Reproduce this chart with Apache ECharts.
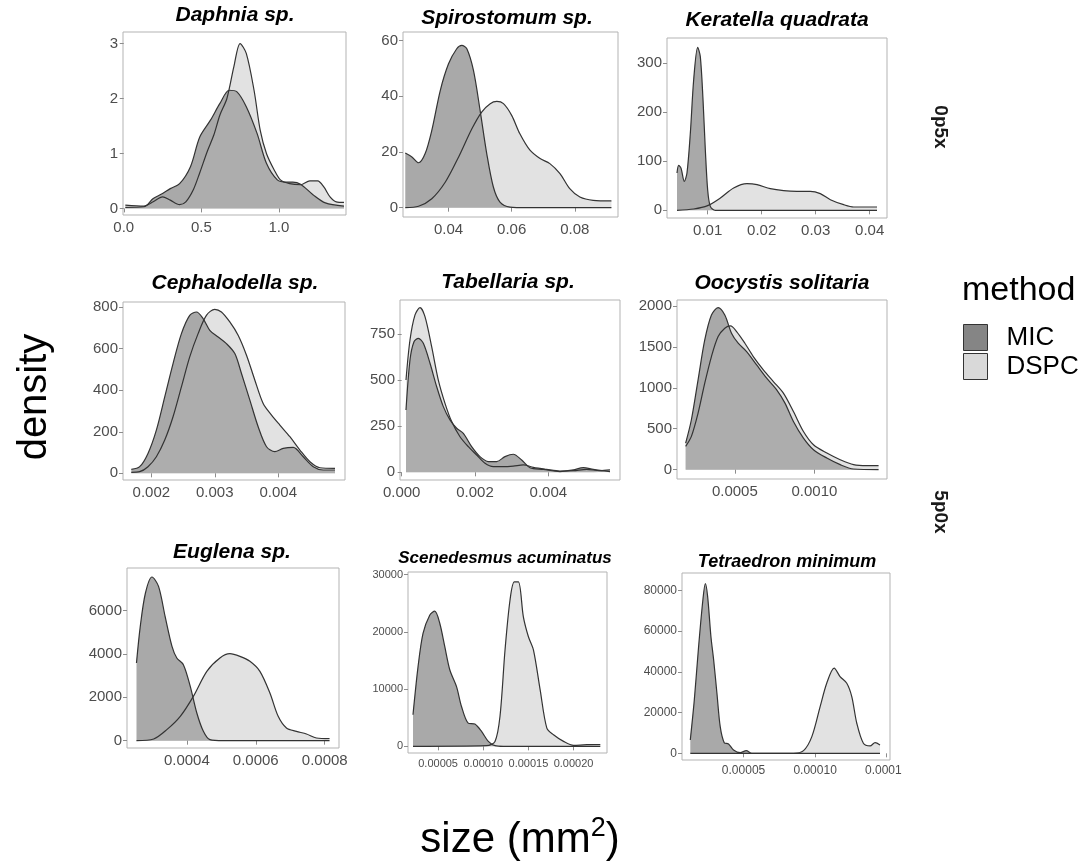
<!DOCTYPE html>
<html>
<head>
<meta charset="utf-8">
<script src="https://cdn.jsdelivr.net/npm/echarts@6/dist/echarts.min.js"></script>
<style>
  html, body { margin: 0; padding: 0; background: #fff; }
  #chart { width: 1092px; height: 866px; }
</style>
</head>
<body>
<div id="chart"></div>
<script>
// panel titles (facets)
var panelTitles = ['Daphnia sp.', 'Spirostomum sp.', 'Keratella quadrata',
  'Cephalodella sp.', 'Tabellaria sp.', 'Oocystis solitaria',
  'Euglena sp.', 'Scenedesmus acuminatus', 'Tetraedron minimum'];
var methods = ['MIC', 'DSPC'];
var stripLabels = ['0p5x', '5p0x'];

// density curves: [size, density]
var daphniaMic = [[0.01,0.02],[0.13,0.03],[0.19,0.18],[0.25,0.27],[0.30,0.36],[0.36,0.45],[0.43,0.76],[0.49,1.30],[0.56,1.61],[0.62,1.91],[0.68,2.15],[0.73,2.12],[0.79,1.85],[0.86,1.36],[0.92,0.82],[0.99,0.52],[1.05,0.48],[1.09,0.48],[1.14,0.44],[1.22,0.25],[1.30,0.10],[1.42,0.04]];
var daphniaDspc = [[0.01,0.06],[0.13,0.04],[0.19,0.12],[0.25,0.21],[0.30,0.15],[0.36,0.07],[0.40,0.12],[0.45,0.35],[0.49,0.65],[0.54,1.05],[0.58,1.33],[0.62,1.70],[0.665,2.0],[0.71,2.58],[0.75,3.0],[0.79,2.82],[0.84,2.15],[0.88,1.42],[0.92,1.0],[0.97,0.70],[1.01,0.52],[1.07,0.45],[1.14,0.43],[1.20,0.50],[1.25,0.50],[1.29,0.39],[1.33,0.21],[1.37,0.12],[1.42,0.11]];

var spiroMic = [[0.0263,19.6],[0.0284,18.2],[0.0305,16.1],[0.0326,19.4],[0.0347,27.7],[0.0374,42.1],[0.0400,51.6],[0.0426,57.0],[0.0442,58.2],[0.0458,57.0],[0.0479,49.2],[0.0500,34.9],[0.0521,19.4],[0.0542,7.4],[0.0563,2.0],[0.0595,0.2],[0.0647,0],[0.0916,0]];
var spiroDspc = [[0.0263,0],[0.0305,0.5],[0.0347,3.2],[0.0390,9.2],[0.0432,18.2],[0.0474,28.3],[0.0505,34.3],[0.0532,37.3],[0.0553,38.1],[0.0574,37.3],[0.0600,33.1],[0.0626,26.5],[0.0658,20.6],[0.0690,17.6],[0.0721,15.8],[0.0753,12.2],[0.0784,6.8],[0.0816,3.8],[0.0858,2.6],[0.0916,2.4]];

var keratellaMic = [[0.00432,76],[0.00463,91.6],[0.00506,86],[0.00568,59],[0.00617,76],[0.00679,157],[0.00741,266],[0.00815,332],[0.00864,313],[0.00914,225],[0.00957,123],[0.0100,42],[0.01049,8],[0.01142,0],[0.04136,0]];
var keratellaDspc = [[0.00432,0],[0.00741,2.7],[0.0100,9.5],[0.01235,25],[0.01481,45.5],[0.01728,54.3],[0.01914,52.3],[0.0216,44.1],[0.02407,40],[0.02654,38.7],[0.02901,38.7],[0.03086,34],[0.03272,21.7],[0.03519,11.5],[0.03704,6.8],[0.04136,6.8]];

var cephaloMic = [[0.001684,19],[0.001816,32],[0.001947,96],[0.002079,208],[0.002211,368],[0.002342,528],[0.002474,672],[0.002605,760],[0.002711,776],[0.002816,744],[0.002921,688],[0.003053,656],[0.003184,624],[0.003316,576],[0.003421,480],[0.003553,352],[0.003684,224],[0.003816,128],[0.003947,104],[0.004079,120],[0.004237,125],[0.004395,80],[0.004553,32],[0.004711,16],[0.004895,16]];
var cephaloDspc = [[0.001684,5],[0.001816,8],[0.001947,32],[0.002079,80],[0.002211,160],[0.002342,272],[0.002474,416],[0.002605,560],[0.002737,672],[0.002868,760],[0.003000,789],[0.003105,776],[0.003237,728],[0.003368,664],[0.003500,568],[0.003632,448],[0.003763,336],[0.003895,280],[0.004026,232],[0.004184,176],[0.004342,112],[0.004500,56],[0.004658,27],[0.004895,24]];

var tabellariaMic = [[0.000118,338],[0.000227,609],[0.000336,708],[0.000455,726],[0.000591,699],[0.000773,591],[0.000955,464],[0.001136,356],[0.001318,284],[0.0015,239],[0.001682,211],[0.001909,139],[0.002136,85],[0.002364,58],[0.002591,58],[0.002818,85],[0.003045,98],[0.003273,67],[0.0035,25],[0.003864,16],[0.004318,4],[0.004682,13],[0.004955,25],[0.005227,16],[0.005682,4]];
var tabellariaDspc = [[0.000118,500],[0.000227,717],[0.000364,853],[0.0005,893],[0.000636,844],[0.000818,681],[0.001,500],[0.001182,374],[0.001364,275],[0.001591,193],[0.001818,139],[0.002045,94],[0.002273,49],[0.0025,31],[0.002773,31],[0.003045,34],[0.003318,40],[0.003591,27],[0.003955,16],[0.004318,7],[0.004682,9],[0.005045,16],[0.005409,9],[0.005682,13]];

var oocystisMic = [[0.000191,325],[0.000227,610],[0.000269,1098],[0.000311,1585],[0.000353,1890],[0.000395,1980],[0.000437,1890],[0.000479,1667],[0.000521,1545],[0.000574,1443],[0.000637,1280],[0.0007,1118],[0.000763,976],[0.000815,813],[0.000868,589],[0.000931,386],[0.000994,244],[0.001078,142],[0.001162,61],[0.001246,8],[0.001403,0]];
var oocystisDspc = [[0.000191,285],[0.000227,407],[0.000269,691],[0.000311,1057],[0.000353,1382],[0.000395,1626],[0.000437,1728],[0.000473,1756],[0.000511,1687],[0.000563,1545],[0.000616,1382],[0.000679,1220],[0.000742,1077],[0.000805,935],[0.000868,711],[0.000931,467],[0.000994,305],[0.001078,203],[0.001162,122],[0.001246,61],[0.00133,49],[0.001403,49]];

var euglenaMic = [[0.000254,3585],[0.000265,5277],[0.00028,6815],[0.000299,7554],[0.000318,7123],[0.000337,5738],[0.000357,4354],[0.000371,3815],[0.00039,3508],[0.00041,2508],[0.000429,1277],[0.000448,431],[0.000467,46],[0.000506,0],[0.000814,0]];
var euglenaDspc = [[0.000254,0],[0.000304,77],[0.000342,508],[0.000381,1123],[0.000419,2046],[0.000458,3200],[0.000496,3815],[0.000525,4015],[0.000554,3892],[0.000583,3662],[0.000612,3200],[0.000641,2200],[0.000665,1123],[0.000689,585],[0.000718,431],[0.000747,308],[0.000776,123],[0.000814,92]];

var scenedesmusMic = [[0.0000222,5513],[0.0000278,13927],[0.0000333,19730],[0.0000407,22922],[0.0000463,23618],[0.0000519,21471],[0.0000574,17409],[0.000063,13347],[0.0000704,10445],[0.0000759,6964],[0.0000833,4062],[0.0000907,3888],[0.0000981,2611],[0.0001056,870],[0.000113,116],[0.0001222,0],[0.0002296,0]];
var scenedesmusDspc = [[0.0000222,0],[0.0001037,116],[0.000113,870],[0.0001185,5223],[0.0001241,16829],[0.0001296,25533],[0.0001344,28724],[0.0001389,28724],[0.0001444,22632],[0.00015,19150],[0.0001556,16829],[0.000163,9865],[0.0001704,3192],[0.0001778,2031],[0.0001889,870],[0.0002,174],[0.0002148,290],[0.0002296,290]];

var tetraedronMic = [[0.0000128,6557],[0.0000156,26230],[0.0000186,52459],[0.0000216,75409],[0.0000233,83279],[0.0000249,77049],[0.0000272,57377],[0.0000291,45902],[0.0000314,29508],[0.0000337,13115],[0.0000365,5246],[0.0000395,4590],[0.000043,1639],[0.0000477,328],[0.0000519,1311],[0.0000558,0],[0.0001453,0]];
var tetraedronDspc = [[0.0000128,0],[0.0000849,0],[0.0000919,1311],[0.0000977,8197],[0.0001035,22951],[0.0001081,34426],[0.0001133,41803],[0.0001174,37705],[0.0001221,34426],[0.0001256,27869],[0.0001291,14754],[0.0001337,4918],[0.0001384,3607],[0.0001419,5246],[0.0001453,4098]];

// tick labels
var daphniaXTicks = ['0.0', '0.5', '1.0'];
var daphniaYTicks = ['0', '1', '2', '3'];
var spiroXTicks = ['0.04', '0.06', '0.08'];
var spiroYTicks = ['0', '20', '40', '60'];
var keratellaXTicks = ['0.01', '0.02', '0.03', '0.04'];
var keratellaYTicks = ['0', '100', '200', '300'];
var cephaloXTicks = ['0.002', '0.003', '0.004'];
var cephaloYTicks = ['0', '200', '400', '600', '800'];
var tabellariaXTicks = ['0.000', '0.002', '0.004'];
var tabellariaYTicks = ['0', '250', '500', '750'];
var oocystisXTicks = ['0.0005', '0.0010'];
var oocystisYTicks = ['0', '500', '1000', '1500', '2000'];
var euglenaXTicks = ['0.0004', '0.0006', '0.0008'];
var euglenaYTicks = ['0', '2000', '4000', '6000'];
var scenedesmusXTicks = ['0.00005', '0.00010', '0.00015', '0.00020'];
var scenedesmusYTicks = ['0', '10000', '20000', '30000'];
var tetraedronXTicks = ['0.00005', '0.00010', '0.00015'];
var tetraedronYTicks = ['0', '20000', '40000', '60000', '80000'];

var font = '"Liberation Sans", Arial, sans-serif';

// layout: box [left, top, width, height], axis ranges, title centre, font sizes
var panels = [
  {mic: daphniaMic, dspc: daphniaDspc, xt: daphniaXTicks, yt: daphniaYTicks, box: [123, 32, 223, 183], x: [-0.005, 1.433], y: [-0.12, 3.21], tp: [235, 15], ts: 21, fs: 15},
  {mic: spiroMic, dspc: spiroDspc, xt: spiroXTicks, yt: spiroYTicks, box: [403, 32, 215, 185], x: [0.02558, 0.09368], y: [-3.35, 63], tp: [507, 18], ts: 21, fs: 15},
  {mic: keratellaMic, dspc: keratellaDspc, xt: keratellaXTicks, yt: keratellaYTicks, box: [667, 38, 220, 180], x: [0.00247, 0.04321], y: [-15.6, 351], tp: [777, 20], ts: 21, fs: 15},
  {mic: cephaloMic, dspc: cephaloDspc, xt: cephaloXTicks, yt: cephaloYTicks, box: [123, 302, 222, 178], x: [0.001553, 0.005053], y: [-32, 824], tp: [235, 283], ts: 21, fs: 15},
  {mic: tabellariaMic, dspc: tabellariaDspc, xt: tabellariaXTicks, yt: tabellariaYTicks, box: [400, 300, 220, 180], x: [-0.0000455, 0.005955], y: [-41.6, 934], tp: [508, 282], ts: 21, fs: 15},
  {mic: oocystisMic, dspc: oocystisDspc, xt: oocystisXTicks, yt: oocystisYTicks, box: [677, 300, 210, 179], x: [0.0001366, 0.001456], y: [-114, 2073], tp: [782, 283], ts: 21, fs: 15},
  {mic: euglenaMic, dspc: euglenaDspc, xt: euglenaXTicks, yt: euglenaYTicks, box: [127, 568, 212, 180], x: [0.0002265, 0.0008414], y: [-338, 7969], tp: [232, 552], ts: 21, fs: 15},
  {mic: scenedesmusMic, dspc: scenedesmusDspc, xt: scenedesmusXTicks, yt: scenedesmusYTicks, box: [408, 572, 199, 181], x: [0.00001667, 0.000237], y: [-1161, 30464], tp: [505, 558], ts: 17, fs: 11},
  {mic: tetraedronMic, dspc: tetraedronDspc, xt: tetraedronXTicks, yt: tetraedronYTicks, box: [682, 573, 208, 187], x: [0.000007, 0.0001523], y: [-3279, 88525], tp: [787, 562], ts: 18, fs: 12}
];

function labelFor(ticks) {
  return function (v) {
    for (var k = 0; k < ticks.length; k++) {
      var t = Number(ticks[k]);
      if (Math.abs(t - v) <= Math.abs(t) * 1e-6 + 1e-14) return ticks[k];
    }
    return '';
  };
}

var grids = [], xAxes = [], yAxes = [], series = [], graphics = [];

panels.forEach(function (p, i) {
  grids.push({left: p.box[0], top: p.box[1], width: p.box[2], height: p.box[3],
    show: true, borderColor: '#b3b3b3', borderWidth: 1, backgroundColor: 'transparent'});
  var common = {
    type: 'value', gridIndex: i, scale: true,
    axisLine: {show: false}, splitLine: {show: false}
  };
  xAxes.push(echarts.util.merge({
    min: p.x[0], max: p.x[1],
    axisTick: {show: true, length: 4, customValues: p.xt.map(Number), lineStyle: {color: '#8c8c8c'}},
    axisLabel: {customValues: p.xt.map(Number), formatter: labelFor(p.xt), color: '#4d4d4d',
      fontSize: p.fs, fontFamily: font, margin: 5}
  }, common));
  yAxes.push(echarts.util.merge({
    min: p.y[0], max: p.y[1],
    axisTick: {show: true, length: 4, customValues: p.yt.map(Number), lineStyle: {color: '#8c8c8c'}},
    axisLabel: {customValues: p.yt.map(Number), formatter: labelFor(p.yt), color: '#4d4d4d',
      fontSize: p.fs, fontFamily: font, margin: 5}
  }, common));
  series.push({
    type: 'line', name: methods[0], xAxisIndex: i, yAxisIndex: i, data: p.mic,
    smooth: 0.3, symbol: 'none', silent: true,
    itemStyle: {color: '#858585'},
    lineStyle: {color: '#333', width: 1.2},
    areaStyle: {color: 'rgba(30,30,30,0.55)'}
  });
  series.push({
    type: 'line', name: methods[1], xAxisIndex: i, yAxisIndex: i, data: p.dspc,
    smooth: 0.3, symbol: 'none', silent: true,
    itemStyle: {color: '#d9d9d9'},
    lineStyle: {color: '#333', width: 1.2},
    areaStyle: {color: 'rgba(180,180,180,0.55)'}
  });
  graphics.push({type: 'text', x: p.tp[0], y: p.tp[1], z: 10,
    style: {text: panelTitles[i], fill: '#000', font: 'italic bold ' + p.ts + 'px ' + font,
      align: 'center', verticalAlign: 'middle'}});
});

// facet strip labels on the right
graphics.push({type: 'text', x: 940, y: 127, rotation: -Math.PI / 2,
  style: {text: stripLabels[0], fill: '#1a1a1a', font: 'bold 19px ' + font, align: 'center', verticalAlign: 'middle'}});
graphics.push({type: 'text', x: 940, y: 512, rotation: -Math.PI / 2,
  style: {text: stripLabels[1], fill: '#1a1a1a', font: 'bold 19px ' + font, align: 'center', verticalAlign: 'middle'}});
// axis titles
graphics.push({type: 'text', x: 35, y: 397, rotation: Math.PI / 2,
  style: {text: 'density', fill: '#000', font: '40px ' + font, align: 'center', verticalAlign: 'middle'}});
graphics.push({type: 'text', x: 520, y: 840,
  style: {text: '{a|size (mm}{s|2}{a|)}', align: 'center', verticalAlign: 'middle',
    rich: {a: {fontSize: 42, fontFamily: font, fill: '#000', color: '#000'},
           s: {fontSize: 27, fontFamily: font, color: '#000', padding: [0, 0, 22, 0]}}}});
// legend title
graphics.push({type: 'text', x: 962, y: 291,
  style: {text: 'method', fill: '#000', font: '34px ' + font, align: 'left', verticalAlign: 'middle'}});
// the last tick label of the bottom-right panel is cut off in the original
graphics.push({type: 'rect', shape: {x: 902, y: 758, width: 40, height: 22}, z: 100,
  style: {fill: '#fff'}});

var option = {
  animation: false,
  backgroundColor: '#fff',
  grid: grids,
  xAxis: xAxes,
  yAxis: yAxes,
  series: series,
  legend: {
    left: 963, top: 324, orient: 'vertical', icon: 'rect', selectedMode: false,
    itemWidth: 24, itemHeight: 26, itemGap: 2, padding: 0,
    textStyle: {fontSize: 26, color: '#000', fontFamily: font, padding: [0, 0, 0, 14]},
    data: [
      {name: methods[0], itemStyle: {color: '#858585', borderColor: '#333', borderWidth: 1}},
      {name: methods[1], itemStyle: {color: '#d9d9d9', borderColor: '#333', borderWidth: 1}}
    ]
  },
  graphic: graphics
};

var myChart = echarts.init(document.getElementById('chart'));
myChart.setOption(option);
</script>
</body>
</html>
